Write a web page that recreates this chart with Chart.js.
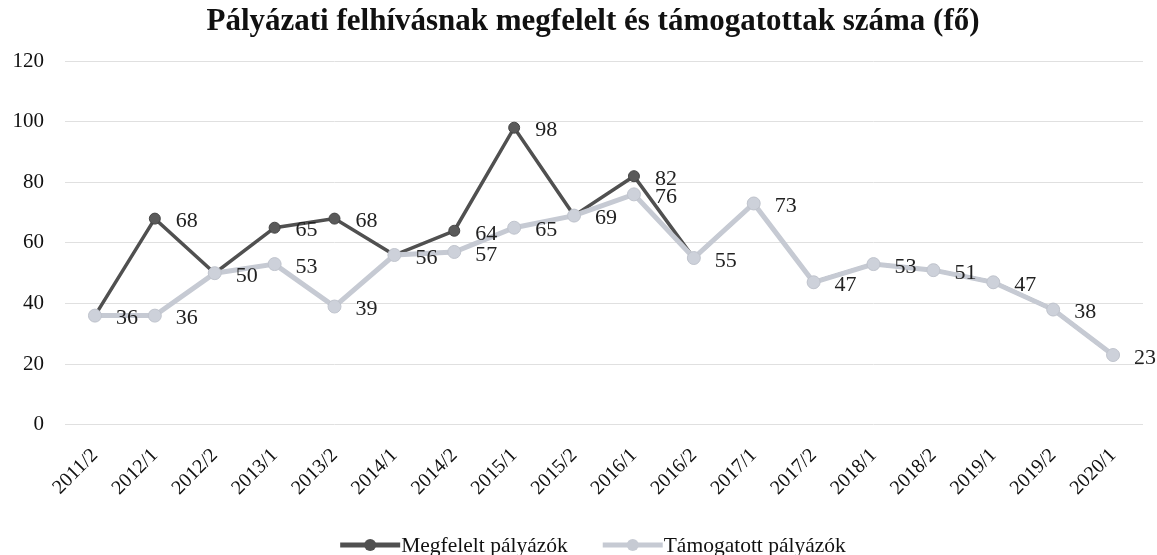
<!DOCTYPE html>
<html>
<head>
<meta charset="utf-8">
<script src="https://cdn.jsdelivr.net/npm/chart.js@4/dist/chart.umd.min.js"></script>
<style>
    html, body { margin: 0; padding: 0; background: #fff; }
    #wrap { width: 1157px; height: 555px; }
</style>
</head>
<body>
<div id="wrap"><canvas id="chart"></canvas></div>
<script>
// Adatok
const idoszakok = ['2011/2', '2012/1', '2012/2', '2013/1', '2013/2', '2014/1', '2014/2', '2015/1', '2015/2',
    '2016/1', '2016/2', '2017/1', '2017/2', '2018/1', '2018/2', '2019/1', '2019/2', '2020/1'];
const megfelelt = [36, 68, 50, 65, 68, 56, 64, 98, 69, 82, 55, 73, 47, 53, 51, 47, 38, 23];
const tamogatott = [36, 36, 50, 53, 39, 56, 57, 65, 69, 76, 55, 73, 47, 53, 51, 47, 38, 23];
const yTicks = [0, 20, 40, 60, 80, 100, 120];
const cim = 'Pályázati felhívásnak megfelelt és támogatottak száma (fő)';

const SERIF = '"Liberation Serif", "DejaVu Serif", serif';
const SOTET = '#505050';
const VILAGOS = '#c6cad3';

// Adatcímkék kirajzolása
const cimkek = {
    id: 'cimkek',
    afterDatasetsDraw(chart) {
        const ctx = chart.ctx;
        ctx.save();
        ctx.font = '22px ' + SERIF;
        ctx.fillStyle = '#222';
        ctx.textBaseline = 'middle';
        ctx.textAlign = 'left';
        chart.data.datasets.forEach((ds, di) => {
            const meta = chart.getDatasetMeta(di);
            meta.data.forEach((pont, i) => {
                // a sötét sor címkéje csak ott látszik, ahol eltér
                if (di === 0 && ds.data[i] === tamogatott[i]) return;
                ctx.fillText(String(ds.data[i]), pont.x + 21, pont.y + 3);
            });
        });
        ctx.restore();
    }
};

// Cím és jelmagyarázat (vonal + kör), kicsit jobbra tolva mint az eredetin
const keret = {
    id: 'keret',
    afterDraw(chart) {
        const ctx = chart.ctx;
        const kozep = 593;
        ctx.save();
        ctx.fillStyle = '#111';
        ctx.textAlign = 'center';
        ctx.textBaseline = 'alphabetic';
        ctx.font = 'bold 31px ' + SERIF;
        ctx.fillText(cim, kozep, 30);

        const y = 545;
        const jelSz = 60;
        const koz = 35;
        ctx.font = '21.5px ' + SERIF;
        ctx.textBaseline = 'middle';
        ctx.textAlign = 'left';
        const elemek = chart.data.datasets.map(ds => ({
            szoveg: ds.label,
            szin: ds.borderColor,
            w: jelSz + 1 + ctx.measureText(ds.label).width
        }));
        const teljes = elemek.reduce((s, e) => s + e.w, 0) + koz * (elemek.length - 1);
        let x = kozep - teljes / 2;
        elemek.forEach(e => {
            ctx.strokeStyle = e.szin;
            ctx.lineWidth = 5;
            ctx.beginPath();
            ctx.moveTo(x, y);
            ctx.lineTo(x + jelSz, y);
            ctx.stroke();
            ctx.fillStyle = e.szin;
            ctx.beginPath();
            ctx.arc(x + jelSz / 2, y, 6, 0, Math.PI * 2);
            ctx.fill();
            ctx.fillStyle = '#111';
            ctx.fillText(e.szoveg, x + jelSz + 1, y + 1);
            x += e.w + koz;
        });
        ctx.restore();
    }
};

const ctx = document.getElementById('chart').getContext('2d');
const chart = new Chart(ctx, {
    type: 'line',
    data: {
        labels: idoszakok,
        datasets: [
            {
                label: 'Megfelelt pályázók',
                data: megfelelt,
                borderColor: SOTET,
                backgroundColor: SOTET,
                borderWidth: 3.5,
                pointRadius: 5.5,
                pointBorderWidth: 1,
                pointBorderColor: '#444',
                pointBackgroundColor: '#5a5a5a',
                tension: 0,
                order: 1
            },
            {
                label: 'Támogatott pályázók',
                data: tamogatott,
                borderColor: VILAGOS,
                backgroundColor: VILAGOS,
                borderWidth: 5,
                pointRadius: 6.5,
                pointBorderWidth: 1,
                pointBorderColor: '#c0c4cd',
                pointBackgroundColor: '#cdd1da',
                tension: 0,
                order: 0
            }
        ]
    },
    options: {
        responsive: true,
        maintainAspectRatio: false,
        animation: false,
        layout: { padding: { top: 61, right: 14, left: 0, bottom: 36 } },
        plugins: {
            title: { display: false },
            legend: { display: false },
            tooltip: { enabled: false }
        },
        scales: {
            x: {
                offset: true,
                grid: { display: false, drawTicks: false },
                border: { display: false },
                ticks: {
                    color: '#111',
                    font: { family: SERIF, size: 20 },
                    minRotation: 45,
                    maxRotation: 45,
                    autoSkip: false,
                    padding: 19
                }
            },
            y: {
                min: 0,
                max: 120,
                afterBuildTicks(scale) {
                    scale.ticks = yTicks.map(v => ({ value: v }));
                },
                afterFit(scale) { scale.width = 65; },
                grid: { color: '#e0e0e0', lineWidth: 1, drawTicks: false },
                border: { display: false },
                ticks: {
                    color: '#111',
                    font: { family: SERIF, size: 21 },
                    padding: 21
                }
            }
        }
    },
    plugins: [cimkek, keret]
});
</script>
</body>
</html>
